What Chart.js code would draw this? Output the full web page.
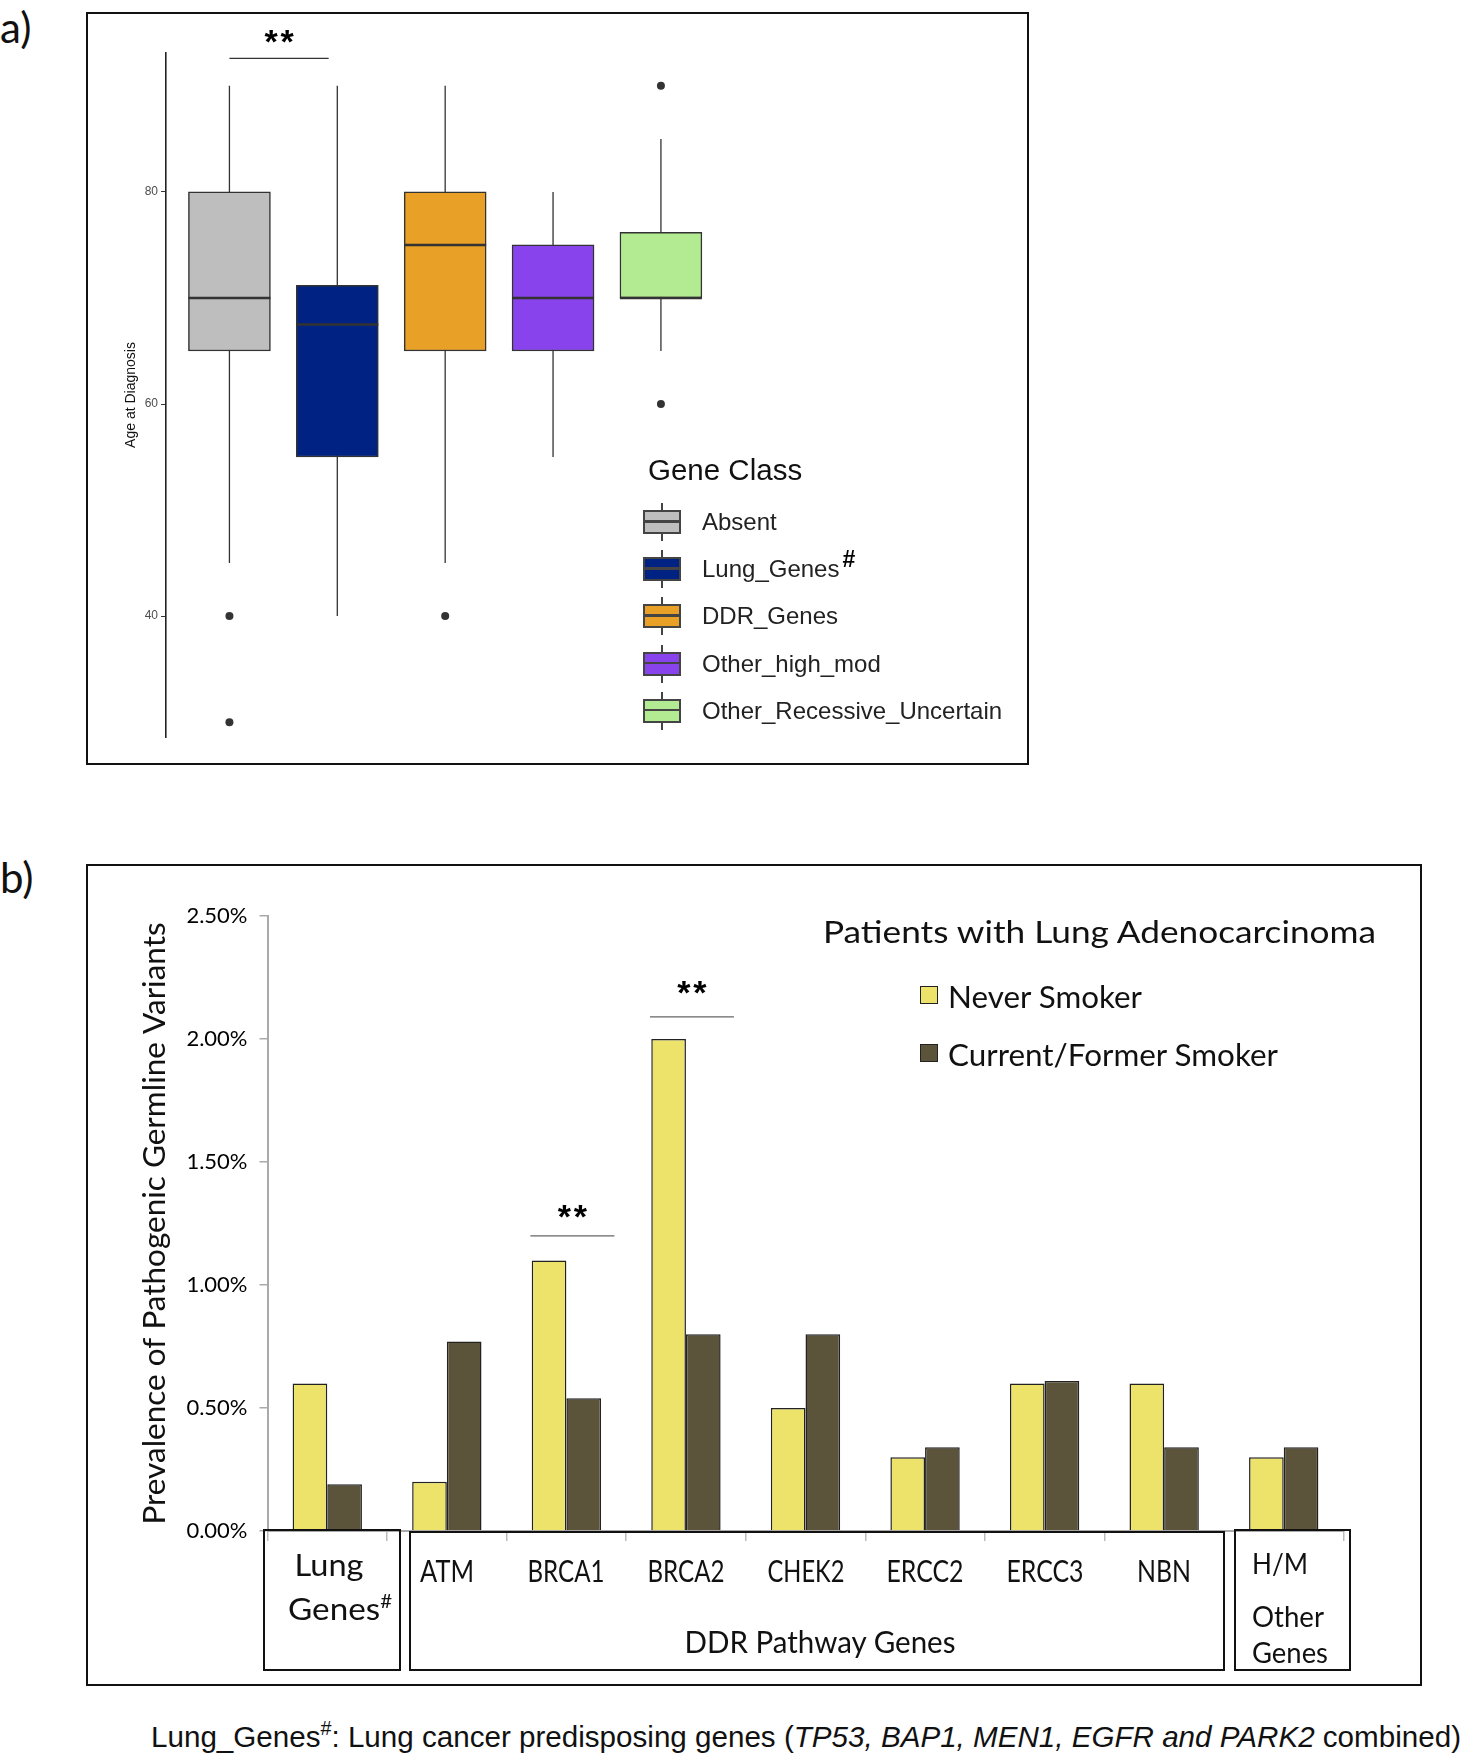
<!DOCTYPE html>
<html>
<head>
<meta charset="utf-8">
<script src="https://cdn.jsdelivr.net/npm/chart.js@4.4.1/dist/chart.umd.min.js"></script>
<style>
  body { margin: 0; background: #fff; width: 1462px; height: 1755px; position: relative; overflow: hidden; font-family: Lato, sans-serif; color: #111; }
  canvas { position: absolute; }
  .frame { position: absolute; border: 2px solid #111; box-sizing: border-box; }
  .lbox { position: absolute; border: 2px solid #111; box-sizing: border-box; }
  .t { position: absolute; white-space: nowrap; line-height: 1; }
  .t > span { display: inline-block; }
  .c { transform: translate(-50%, -50%); }
  .c > span { transform-origin: center; }
  .l { transform: translate(0, -50%); }
  .l > span { transform-origin: left center; }
  .arial { font-family: "Liberation Sans", Arial, sans-serif; }
  .glyph { position: absolute; width: 38px; height: 38px; }
  .glyph .stem { position: absolute; left: 18px; top: 0; width: 2px; height: 38px; background: #444; }
  .glyph .box { position: absolute; left: 0; top: 7px; width: 38px; height: 24px; border: 2.5px solid #444; box-sizing: border-box; }
  .glyph .med { position: absolute; left: 0; right: 0; top: 8px; height: 2.5px; background: #444; }
  .sq { position: absolute; width: 18px; height: 18px; border: 1.5px solid #222; box-sizing: border-box; }
</style>
</head>
<body>

<div class="t l" style="left:0;top:27px;font-size:42px;">a)</div>
<div class="t l" style="left:0;top:877px;font-size:42px;">b)</div>

<div class="frame" style="left:86px;top:12px;width:943px;height:753px;"></div>
<canvas id="chartA" width="943" height="753" style="left:86px;top:12px;"></canvas>
<div id="legendA"></div>

<div class="frame" style="left:86px;top:864px;width:1336px;height:822px;"></div>
<canvas id="chartB" width="1336" height="822" style="left:86px;top:864px;"></canvas>

<div class="t l" style="left:823px;top:931px;font-size:31px;"><span data-fit="553">Patients with Lung Adenocarcinoma</span></div>
<div class="sq" style="left:920px;top:986px;background:#ede36a;"></div>
<div class="t l" style="left:948px;top:996px;font-size:30px;"><span data-fit="194">Never Smoker</span></div>
<div class="sq" style="left:920px;top:1044px;background:#5b533a;"></div>
<div class="t l" style="left:948px;top:1054px;font-size:30px;"><span data-fit="330">Current/Former Smoker</span></div>

<div class="lbox" style="left:263px;top:1529px;width:138px;height:142px;"></div>
<div class="lbox" style="left:409px;top:1531px;width:816px;height:140px;"></div>
<div class="lbox" style="left:1234px;top:1529px;width:117px;height:142px;"></div>
<div id="geneLabels"></div>
<div class="t c" style="left:329px;top:1564px;font-size:31px;"><span data-fit="69">Lung</span></div>
<div class="t c" style="left:340px;top:1608px;font-size:31px;"><span data-fit="104">Genes<sup style="font-size:19px;vertical-align:12px;line-height:0;">#</sup></span></div>
<div class="t c" style="left:820px;top:1641px;font-size:31px;"><span data-fit="271">DDR Pathway Genes</span></div>
<div class="t l" style="left:1252px;top:1562px;font-size:29px;"><span data-fit="56">H/M</span></div>
<div class="t l" style="left:1252px;top:1615px;font-size:29px;"><span data-fit="72">Other</span></div>
<div class="t l" style="left:1252px;top:1651px;font-size:29px;"><span data-fit="76">Genes</span></div>

<div class="t l arial" style="left:151px;top:1737px;font-size:30px;"><span data-fit="1310">Lung_Genes<sup style="font-size:20px;vertical-align:12px;line-height:0;">#</sup>: Lung cancer predisposing genes (<i>TP53, BAP1, MEN1, EGFR and PARK2</i> combined)</span></div>

<script>
// ---- panel a: age at diagnosis by gene class ----
const geneClasses = ['Absent', 'Lung_Genes', 'DDR_Genes', 'Other_high_mod', 'Other_Recessive_Uncertain'];
const whiskerLow = [45, 40, 45, 55, 65];
const boxQ1 = [65, 55, 65, 65, 70];
const boxMedian = [70, 67.5, 75, 70, 70];
const boxQ3 = [80, 71.2, 80, 75, 76.2];
const whiskerHigh = [90, 90, 90, 80, 85];
const outliers = [[40, 30], [], [40], [], [90, 60]];
const classColors = ['#bebebe', '#002282', '#e9a027', '#8843ec', '#b2eb91'];

// ---- panel b: prevalence of germline variants ----
const genes = ['Lung Genes', 'ATM', 'BRCA1', 'BRCA2', 'CHEK2', 'ERCC2', 'ERCC3', 'NBN', 'H/M'];
const neverSmoker = [0.60, 0.20, 1.10, 2.00, 0.50, 0.30, 0.60, 0.60, 0.30];
const everSmoker = [0.19, 0.77, 0.54, 0.80, 0.80, 0.34, 0.61, 0.34, 0.34];
const seriesNames = ['Never Smoker', 'Current/Former Smoker'];

// significance marks
const sigA = [{ from: 0, to: 0.92, y: 92.6, labelY: 94.6 }];
const sigB = [{ gene: 'BRCA1', y: 1.20, labelY: 1.30 }, { gene: 'BRCA2', y: 2.09, labelY: 2.21 }];

const BOX_HALF = 0.38;

const sigPlugin = {
  id: 'sig',
  afterDraw(chart, args, opts) {
    const ctx = chart.ctx, xs = chart.scales.x, ys = chart.scales.y;
    ctx.save();
    opts.marks.forEach(m => {
      let x1, x2;
      if (m.gene !== undefined) {
        const cx = xs.getPixelForValue(genes.indexOf(m.gene)) + opts.shift;
        x1 = cx - opts.half; x2 = cx + opts.half;
      } else {
        x1 = xs.getPixelForValue(m.from); x2 = xs.getPixelForValue(m.to);
      }
      const y = ys.getPixelForValue(m.y);
      ctx.strokeStyle = opts.lineColor;
      ctx.lineWidth = 1.3;
      ctx.beginPath(); ctx.moveTo(x1, y); ctx.lineTo(x2, y); ctx.stroke();
      // two bold asterisks, spaced a little
      ctx.fillStyle = '#000';
      ctx.font = 'bold 34px "Liberation Sans", Arial';
      ctx.textAlign = 'center';
      ctx.textBaseline = 'middle';
      const mid = (x1 + x2) / 2, ty = ys.getPixelForValue(m.labelY) + 7;
      ctx.fillText('*', mid - 8, ty);
      ctx.fillText('*', mid + 8, ty);
    });
    ctx.restore();
  }
};

const whiskerPts = [], medianPts = [], outlierPts = [];
geneClasses.forEach((c, i) => {
  whiskerPts.push({ x: i, y: whiskerLow[i] }, { x: i, y: whiskerHigh[i] }, { x: i, y: null });
  medianPts.push({ x: i - BOX_HALF, y: boxMedian[i] }, { x: i + BOX_HALF, y: boxMedian[i] }, { x: i, y: null });
  outliers[i].forEach(v => outlierPts.push({ x: i, y: v }));
});

const chartA = new Chart(document.getElementById('chartA'), {
  data: {
    datasets: [
      { type: 'line', data: whiskerPts, borderColor: '#333', borderWidth: 1.3, pointRadius: 0, spanGaps: false, order: 3 },
      { type: 'bar', data: geneClasses.map((c, i) => ({ x: i, y: [boxQ1[i], boxQ3[i]] })),
        backgroundColor: classColors, borderColor: '#333', borderWidth: 1.5, borderSkipped: false, barThickness: 82, order: 2 },
      { type: 'line', data: medianPts, borderColor: '#333', borderWidth: 2.5, pointRadius: 0, spanGaps: false, order: 1 },
      { type: 'scatter', data: outlierPts, pointRadius: 4, backgroundColor: '#333', borderWidth: 0, order: 0 }
    ]
  },
  options: {
    responsive: false,
    animation: false,
    layout: { padding: { left: 0, top: 41, right: 3, bottom: 28 } },
    plugins: {
      legend: { display: false },
      tooltip: { enabled: false },
      sig: { marks: sigA, lineColor: '#333', shift: 0, half: 0 }
    },
    scales: {
      x: { type: 'linear', min: -0.588, max: 7.375, offset: false, display: false },
      y: {
        min: 28.6, max: 93.1,
        afterFit: s => { s.width = 80; },
        ticks: { stepSize: 20, includeBounds: false, color: '#4d4d4d', padding: 3, font: { family: '"Liberation Sans", Arial', size: 12 } },
        grid: { drawOnChartArea: false, tickLength: 5, color: '#333' },
        border: { color: '#222', width: 1.6 },
        title: { display: true, text: 'Age at Diagnosis', color: '#111', padding: { top: 37, bottom: 0 },
                 font: { family: '"Liberation Sans", Arial', size: 14 } }
      }
    }
  },
  plugins: [sigPlugin]
});

const chartB = new Chart(document.getElementById('chartB'), {
  type: 'bar',
  data: {
    labels: genes,
    datasets: [
      { label: seriesNames[0], data: neverSmoker, backgroundColor: '#ede36a', borderColor: '#222', borderWidth: 1.5, borderSkipped: 'bottom' },
      { label: seriesNames[1], data: everSmoker, backgroundColor: '#5b533a', borderColor: '#222', borderWidth: 1.5, borderSkipped: 'bottom' }
    ]
  },
  options: {
    responsive: false,
    animation: false,
    layout: { padding: { left: 0, top: 52, right: 78.5, bottom: 143 } },
    datasets: { bar: { categoryPercentage: 0.58, barPercentage: 1.0 } },
    plugins: {
      legend: { display: false },
      tooltip: { enabled: false },
      sig: { marks: sigB, lineColor: '#666', shift: 6, half: 42 }
    },
    scales: {
      x: {
        afterFit: s => { s.height = 12; },
        ticks: { display: false },
        grid: { drawOnChartArea: false, offset: true, tickLength: 10, color: '#bbb', lineWidth: 1.5 },
        border: { color: '#aaa', width: 2 }
      },
      y: {
        min: 0, max: 2.5,
        afterFit: s => { s.width = 181.5; },
        ticks: { stepSize: 0.5, color: '#000', padding: 12, font: { family: 'Lato', size: 22 },
                 callback: v => v.toFixed(2) + '%' },
        grid: { drawOnChartArea: false, tickLength: 8, color: '#aaa', lineWidth: 1.5 },
        border: { color: '#aaa', width: 2 },
        title: { display: true, text: 'Prevalence of Pathogenic Germline Variants', color: '#111',
                 padding: { top: 49.5, bottom: 0 }, font: { family: 'Lato', size: 31.5 } }
      }
    }
  },
  plugins: [sigPlugin]
});

// legend for panel a
const legendA = document.getElementById('legendA');
legendA.innerHTML = '<div class="t l arial" style="left:648px;top:470px;font-size:29.5px;">Gene Class</div>';
geneClasses.forEach((name, i) => {
  const cy = 522 + i * 47.2;
  const g = document.createElement('div');
  g.className = 'glyph';
  g.style.left = '643px';
  g.style.top = (cy - 19) + 'px';
  g.innerHTML = '<div class="stem"></div><div class="box" style="background:' + classColors[i] + '"><div class="med"></div></div>';
  legendA.appendChild(g);
  const t = document.createElement('div');
  t.className = 't l arial';
  t.style.cssText = 'left:702px;top:' + cy + 'px;font-size:24px;color:#222;';
  t.innerHTML = name === 'Lung_Genes'
    ? 'Lung_Genes<b style="font-size:23px;color:#000;position:relative;top:-10px;margin-left:3px;">#</b>'
    : name;
  legendA.appendChild(t);
});

// gene labels under panel b, placed from the category scale
const geneLabels = document.getElementById('geneLabels');
genes.forEach((g, i) => {
  if (i === 0 || i === genes.length - 1) return;
  const d = document.createElement('div');
  d.className = 't c';
  d.style.cssText = 'left:' + (86 + chartB.scales.x.getPixelForValue(i)) + 'px;top:1570px;font-size:30px;';
  d.innerHTML = '<span data-fit="' + (g.length <= 3 ? 54 : 77) + '">' + g + '</span>';
  geneLabels.appendChild(d);
});

function fitAll() {
  document.querySelectorAll('[data-fit]').forEach(el => {
    el.style.transform = '';
    const w = el.getBoundingClientRect().width;
    el.style.transform = 'scaleX(' + (parseFloat(el.dataset.fit) / w) + ')';
  });
}
fitAll();
if (document.fonts) document.fonts.ready.then(fitAll);
</script>
</body>
</html>
